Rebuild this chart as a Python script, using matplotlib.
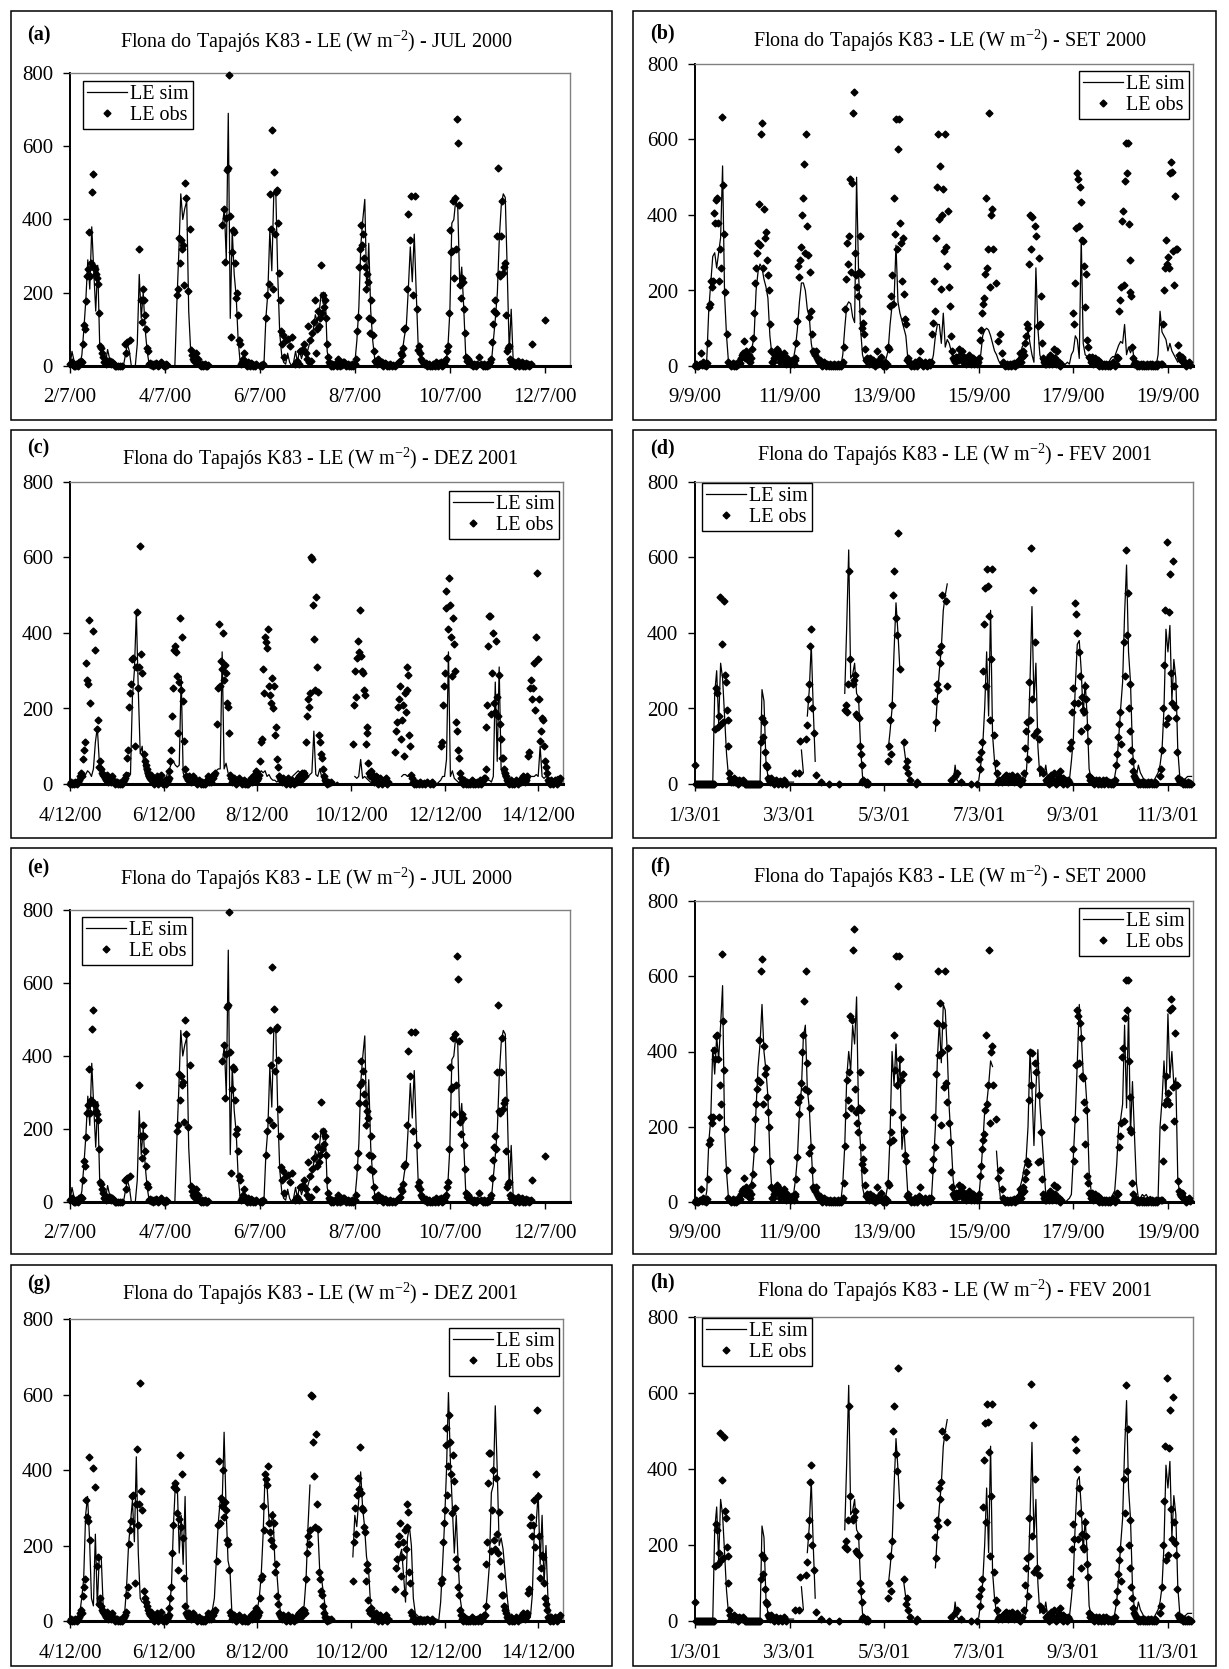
import numpy as np
import matplotlib
matplotlib.use("Agg")
import matplotlib.pyplot as plt
from matplotlib.patches import Rectangle

plt.rcParams['font.family'] = ['Liberation Serif', 'DejaVu Serif']
plt.rcParams['mathtext.fontset'] = 'custom'
plt.rcParams['mathtext.rm'] = 'Liberation Serif'

N = None

# ---------------- JUL 2000 ----------------
ticks_jul = ['2/7/00', '4/7/00', '6/7/00', '8/7/00', '10/7/00', '12/7/00']
# observed LE, half-hourly, one row per day
obs_jul = [
    [5,8,10,3,0,0,5,2,0,10,12,15,10,60,113,100,178,245,265,365,245,280,475,525,270,265,250,240,225,145,55,50,35,25,10,15,5,15,12,8,15,5,10,N,5,0,N,0],
    [N,0,N,0,N,0,N,N,60,35,65,N,N,70,N,N,N,N,N,N,N,N,320,N,180,120,210,180,140,100,50,40,5,8,3,5,0,5,2,8,5,0,3,5,10,5,3,0],
    [0,5,3,N,N,N,N,N,N,N,N,N,195,210,350,280,345,320,330,220,500,460,N,205,N,375,45,30,20,15,25,35,10,20,5,3,0,5,0,3,5,0,0,2,N,N,N,N],
    [N,N,N,N,N,N,N,N,N,N,385,N,430,285,405,535,540,795,410,80,310,370,365,280,185,200,140,70,60,5,10,20,35,10,5,0,10,5,0,8,5,0,3,0,5,N,N,N],
    [0,3,0,5,N,N,130,195,N,225,470,375,645,210,530,360,475,480,390,255,180,95,60,85,25,N,70,N,75,N,55,N,80,N,N,5,N,15,N,5,N,40,N,45,N,60,N,35],
    [20,110,10,70,15,90,N,120,180,35,100,150,110,130,275,145,195,160,180,130,60,25,10,5,0,5,0,3,5,N,0,20,5,0,5,2,10,10,5,0,3,5,0,2,0,5,0,3],
    [5,20,95,135,270,320,385,330,360,295,270,210,250,230,130,90,180,125,85,40,15,10,5,20,15,10,5,10,0,5,8,5,0,3,0,5,N,0,N,3,N,0,N,5,8,10,15,35],
    [30,50,100,105,N,210,415,N,345,465,N,195,N,465,N,155,45,55,35,20,15,10,5,5,8,0,3,5,0,N,0,5,3,0,10,5,0,8,5,10,0,3,5,15,20,40,55,145],
    [370,310,315,450,240,460,320,675,610,440,220,185,240,230,155,90,25,15,20,10,5,8,3,0,5,2,0,5,N,25,N,5,N,0,3,5,0,2,0,5,3,10,20,65,115,150,180,145],
    [355,540,250,245,355,450,255,270,280,140,40,50,55,20,10,15,5,10,0,8,5,15,0,5,3,10,0,5,0,8,2,5,0,3,5,60,N,N,N,N,N,N,N,N,N,N,N,N],
    [125],
]
# simulated LE, hourly, one row per day
sim_jul = [
    [0,40,15,0,0,5,30,100,180,290,210,380,260,150,275,60,25,10,10,45,20,5,0,0],
    [0,0,0,0,30,60,40,0,0,0,60,250,130,200,100,40,5,0,0,5,0,0,0,0],
    [0,0,0,0,0,0,170,310,470,400,430,450,150,40,20,30,15,5,0,0,0,0,0,0],
    [0,0,0,0,N,380,430,290,690,130,370,250,190,70,10,0,5,0,0,5,0,0,0,0],
    [0,0,0,130,200,370,260,470,480,250,90,30,10,5,35,10,0,10,40,10,45,20,40,50],
    [40,60,70,100,140,120,150,200,170,200,40,10,5,10,5,0,0,5,0,0,5,0,0,10],
    [10,70,160,330,400,455,200,335,150,70,20,10,5,0,5,0,0,0,5,0,0,0,0,15],
    [40,80,110,210,325,230,360,200,55,30,15,5,0,0,5,0,0,0,0,5,0,0,10,50],
    [150,390,400,455,430,220,270,160,30,15,5,0,0,5,0,0,0,0,0,0,0,10,70,130],
    [200,350,440,470,460,260,40,155,15,5,0,5,0,0,5,0,0,5,0],
]

# ---------------- SET 2000 ----------------
ticks_set = ['9/9/00', '11/9/00', '13/9/00', '15/9/00', '17/9/00', '19/9/00']
obs_set = [
    [0,5,0,0,3,5,35,2,10,3,5,0,8,60,155,165,225,210,225,405,380,440,445,380,225,310,260,660,480,350,195,N,85,N,10,N,5,0,3,8,0,5,0,3,10,5,8,20],
    [30,35,65,20,40,25,15,30,10,20,45,75,140,220,260,300,325,430,320,615,645,260,415,340,355,280,240,200,110,40,10,10,20,30,25,45,40,30,10,15,25,20,35,10,5,20,15,10],
    [10,5,15,10,5,20,15,60,120,265,235,280,315,400,445,535,300,615,370,295,130,250,145,85,40,35,30,40,20,15,10,15,5,0,3,10,5,0,5,3,0,5,0,2,0,5,0,3],
    [0,5,0,3,0,5,10,50,150,230,325,270,345,495,250,485,670,725,300,240,210,185,250,345,245,100,145,115,85,45,15,20,10,5,20,10,5,15,5,0,10,40,5,15,10,25,5,0],
    [5,10,0,5,50,45,160,185,240,165,445,350,655,310,575,655,380,325,225,340,190,125,110,15,20,10,5,0,5,3,0,10,5,0,5,15,40,10,5,0,5,10,3,0,5,10,5,2],
    [10,85,115,225,145,340,475,615,390,530,205,400,470,305,615,315,265,410,210,160,80,40,20,15,10,25,15,20,45,30,20,40,10,25,15,5,20,10,30,15,5,10,20,5,15,10,5,10],
    [20,70,95,140,165,180,245,445,260,310,670,210,400,415,310,N,N,N,220,N,65,N,85,N,35,10,5,0,3,5,0,2,5,0,5,3,8,0,5,10,5,15,35,10,25,40,30,60],
    [80,110,100,270,400,310,395,N,N,370,345,N,105,285,110,185,60,20,10,5,5,10,20,5,30,10,5,20,45,20,5,40,5,10,0,5,N,N,N,N,N,N,N,N,N,N,N,N],
    [140,110,220,365,510,495,370,475,435,335,330,265,155,245,70,50,25,20,10,25,5,15,20,10,5,15,0,10,5,0,3,5,0,5,2,0,5,0,3,5,10,5,0,5,25,20,145,175],
    [210,385,410,215,490,590,510,590,375,280,195,185,50,20,5,10,5,0,5,0,3,5,0,5,0,3,0,5,0,2,5,0,5,0,3,0,5,0,5,N,N,5,5,110,200,260,335,270],
    [290,260,510,540,515,305,215,450,310,310,55,30,20,15,25,10,10,5,0,5,5,10,3],
]
sim_set_b = [
    [0,0,0,0,0,0,20,150,220,290,300,260,300,340,530,190,80,10,0,5,10,5,5,10],
    [20,30,20,30,40,50,80,200,250,270,260,230,210,180,80,30,15,20,30,20,15,10,20,10],
    [10,10,20,50,100,170,220,220,200,150,130,60,30,30,20,10,5,5,0,5,0,0,5,10],
    [0,5,0,30,100,160,170,165,130,115,500,250,100,30,10,5,0,5,10,5,0,5,10,5],
    [5,20,40,110,160,170,320,170,140,120,100,80,20,10,5,0,5,10,5,0,5,15,10,5],
    [5,30,80,110,110,60,140,50,70,60,40,20,15,10,5,15,20,10,15,20,10,25,15,10],
    [5,30,80,95,100,95,80,60,40,30,15,5,0,5,0,0,5,10,5,10,20,30,50,60],
    [70,95,60,30,10,260,100,30,10,5,15,25,10,5,20,30,15,10,5,0,5,10,5,30],
    [40,80,70,20,340,60,30,25,10,5,10,5,15,5,0,5,0,5,10,20,25,25,40,55],
    [65,60,110,30,50,35,50,10,5,0,5,5,0,5,0,5,0,5,0,30,145,90,80,70],
    [40,60,40,30,20,10,20,5,10,20,5,10],
]
sim_set_f = [
    [0,0,0,0,0,0,30,160,220,410,340,440,380,470,575,190,80,10,0,5,5,10,10,20],
    [20,30,40,30,40,60,130,250,360,420,525,400,350,280,120,30,10,20,30,25,15,10,20,10],
    [10,10,20,60,120,240,300,440,470,300,250,140,40,30,20,10,5,5,0,5,0,0,5,10],
    [0,5,0,50,150,330,400,350,470,420,545,230,150,40,15,5,0,5,10,5,0,5,10,5],
    [0,20,50,180,400,310,420,300,380,140,200,110,20,10,5,0,5,10,5,0,5,15,10,5],
    [10,100,200,380,480,370,525,510,400,250,160,60,20,10,5,15,20,10,15,20,10,25,15,10],
    [10,70,150,240,260,310,375,360,N,135,60,10,5,10,5,10,5,10,5,10,20,40,60,90],
    [110,200,400,300,150,300,405,260,180,100,20,10,5,15,10,5,0,5,10,5,0,5,10,20],
    [120,230,370,525,450,340,330,250,80,30,20,10,5,10,5,0,5,0,5,10,20,30,100,200],
    [220,260,470,250,510,180,320,180,50,10,10,20,15,20,10,15,10,5,5,10,200,270,375,280],
    [500,330,400,310,330,60,20,10,30,10,5,10],
]

# ---------------- DEZ 2001 ----------------
ticks_dez = ['4/12/00', '6/12/00', '8/12/00', '10/12/00', '12/12/00', '14/12/00']
obs_dez = [
    [0,5,0,3,0,5,2,0,5,10,20,30,20,65,90,110,320,275,265,435,215,N,N,N,405,N,355,N,145,170,45,60,40,30,25,20,15,10,25,5,15,10,5,20,10,5,0,5],
    [5,0,3,0,5,0,5,10,15,25,70,90,N,205,240,265,330,335,N,100,310,455,255,310,630,345,295,N,80,60,50,40,30,20,15,25,10,5,0,10,5,20,0,5,10,25,5,0],
    [5,10,0,5,10,15,35,60,90,180,255,355,365,350,285,135,270,440,250,390,220,115,40,20,15,10,20,15,5,10,20,15,10,5,0,5,10,5,0,5,0,3,0,5,10,20,5,15],
    [10,5,20,15,25,30,N,160,255,425,260,325,305,400,275,315,295,215,205,135,25,15,5,10,15,5,0,10,5,15,10,5,0,5,10,0,5,0,3,0,5,10,15,5,10,25,20,35],
    [10,15,25,60,110,120,305,240,390,375,360,410,260,235,215,280,200,260,130,150,65,45,20,15,10,5,15,10,5,0,10,5,15,5,0,5,10,5,0,5,10,5,15,20,25,10,30,20],
    [30,20,110,180,225,205,240,600,595,475,385,250,495,310,245,130,110,80,70,40,20,10,5,0,5,N,3,N,5,N,N,N,N,N,N,N,N,N,N,N,N,N,N,N,N,N,N,N],
    [N,N,105,210,300,230,335,380,350,460,340,300,295,250,235,105,150,135,55,30,20,35,25,15,5,10,20,5,0,10,15,5,0,5,10,5,15,0,5,N,N,N,N,N,N,85,140,165],
    [205,225,260,120,170,210,75,240,190,250,310,290,130,100,25,15,5,0,5,0,3,N,0,5,N,0,N,3,0,N,5,N,N,0,N,5,0,N,N,N,N,N,N,N,100,110,210,260],
    [295,465,510,335,410,545,475,390,285,440,370,300,165,140,90,70,30,15,5,0,10,5,0,5,0,3,0,5,10,0,5,0,3,5,0,5,10,0,5,10,15,15,40,150,210,365,445,445],
    [185,295,400,215,190,380,230,180,290,160,120,70,70,40,30,20,10,5,0,5,10,0,5,0,3,10,5,0,5,10,5,15,20,10,5,15,10,20,75,85,255,275,225,255,320,195,390,560],
    [330,225,115,140,175,170,100,60,45,30,10,5,0,10,5,0,5,10,5,0,5,10,15],
]
sim_dez_c = [
    [0,0,0,0,0,20,30,20,25,35,30,20,40,110,150,60,40,30,20,15,10,10,5,5],
    [5,0,0,5,20,30,30,25,230,300,455,250,80,100,40,20,10,5,5,0,5,10,5,5],
    [5,10,30,40,55,60,50,45,50,285,30,15,20,15,10,5,0,5,10,5,0,5,10,15],
    [20,25,30,35,40,40,350,40,55,30,20,15,10,5,5,10,5,0,0,5,5,10,5,10],
    [15,25,35,30,35,20,25,15,10,10,5,10,5,5,0,5,10,15,20,25,30,35,30,35],
    [30,35,20,25,30,140,25,20,40,20,5,5,0,5,0,0,0,5,0,0,N,N,N,N],
    [N,N,20,15,20,65,15,20,15,10,5,5,30,20,25,15,10,5,0,N,N,N,N,N],
    [N,N,20,25,25,20,25,15,5,0,0,0,5,0,0,5,0,0,5,0,0,5,10,20],
    [20,65,350,20,35,15,10,5,0,5,0,0,5,0,0,5,0,0,5,0,0,5,10,10],
    [5,20,270,60,310,40,20,10,5,5,5,10,5,5,0,5,10,10,5,15,20,20,20,25],
    [20,100,20,15,20,15,10,5,10,15,20,20],
]
sim_dez_g = [
    [5,5,5,5,10,20,60,110,280,330,220,60,40,230,40,170,170,40,30,20,10,5,5,5],
    [0,5,5,10,20,90,200,260,320,210,435,180,60,50,50,30,20,10,5,5,0,5,10,5],
    [5,10,15,40,90,250,360,360,180,280,150,330,40,20,15,20,10,5,0,5,0,5,10,20],
    [25,30,60,160,260,320,310,500,300,160,135,20,10,5,5,10,5,0,5,10,5,10,15,20],
    [30,60,120,230,390,360,270,250,290,160,130,60,20,15,10,5,5,10,5,10,20,25,30,35],
    [40,110,250,360,N,N,245,250,135,110,70,30,10,5,0,5,0,N,N,N,N,N,N,N],
    [N,170,280,250,320,395,300,250,170,140,50,30,20,15,10,5,10,5,0,5,0,5,N,140],
    [140,170,190,120,50,220,250,200,60,20,15,10,10,10,10,10,10,5,5,5,5,0,50,150],
    [260,400,605,420,300,180,280,150,60,25,20,15,10,10,5,5,5,0,5,0,5,20,80,150],
    [340,360,570,400,200,220,190,130,70,20,10,5,10,5,10,0,5,5,10,5,10,70,240,260],
    [340,150,280,100,200,60,20,10,5,10,15,20],
]

# ---------------- FEV 2001 ----------------
ticks_fev = ['1/3/01', '3/3/01', '5/3/01', '7/3/01', '9/3/01', '11/3/01']
obs_fev = [
    [50,0,0,0,0,0,0,0,0,0,0,0,0,0,0,0,0,0,0,0,145,255,240,150,180,495,160,370,165,485,290,270,195,170,100,30,15,5,10,5,15,5,10,5,0,10,5,8],
    [5,10,5,0,0,0,0,0,0,0,0,0,0,0,0,0,0,0,0,110,175,125,165,85,50,45,15,10,5,15,10,5,0,5,10,5,0,5,8,5,0,5,10,5,0,N,N,N],
    [N,N,N,N,N,N,30,N,N,N,30,115,N,N,N,N,N,120,155,225,265,365,410,200,N,135,N,25,N,N,N,N,5,N,N,N,N,N,N,N,0,N,N,N,N,N,N,N],
    [N,N,0,N,N,N,N,N,195,210,190,265,565,330,N,N,265,275,290,185,180,225,175,100,80,50,5,10,N,5,0,5,0,N,N,N,N,N,N,N,N,N,N,N,N,N,N,N],
    [N,N,N,N,60,100,170,80,210,500,565,N,440,395,665,N,305,N,N,N,110,N,45,60,30,N,10,N,N,N,N,N,0,5,N,N,N,N,N,N,N,N,N,N,N,N,N,N],
    [N,N,N,N,220,165,265,250,350,320,365,500,N,N,N,485,260,N,N,N,10,N,N,N,20,N,30,N,N,N,5,N,N,N,N,N,N,N,N,N,0,N,N,N,N,N,0,N],
    [65,40,85,110,300,425,520,260,570,525,445,170,330,570,N,130,N,N,55,30,5,10,N,N,5,15,10,20,25,15,5,20,10,15,25,10,5,15,10,20,5,10,0,5,10,N,30,95],
    [140,165,65,270,170,625,225,515,130,375,N,140,N,120,40,N,N,30,N,N,10,5,15,0,10,25,5,10,30,5,0,10,5,20,35,10,5,15,0,5,10,5,0,10,5,95,110,190],
    [255,215,480,450,400,215,350,285,140,230,195,190,260,225,150,115,20,10,15,5,10,0,5,10,5,0,10,5,0,5,10,0,5,10,5,0,5,3,0,5,0,5,10,50,80,125,160,190],
    [105,N,N,375,285,620,395,505,200,265,140,90,60,35,20,15,10,5,0,5,0,3,5,0,5,0,3,0,5,0,2,5,0,3,0,5,0,N,N,N,20,40,90,200,315,460,160,640],
    [175,455,555,295,215,590,260,205,175,85,15,10,5,10,5,0,5,0,3,0,5,0,2,0],
]
sim_fev = [
    [0,0,0,0,0,0,0,0,0,0,240,300,160,320,280,180,80,20,5,0,5,10,5,5],
    [5,0,0,0,0,0,0,0,0,0,250,220,60,20,10,5,5,5,5,5,0,0,N,N],
    [5,5,5,N,N,N,90,30,N,180,250,370,200,60,N,N,10,0,N,N,N,N,N,N],
    [N,N,N,N,240,420,620,280,290,320,240,230,100,20,5,5,N,N,N,N,N,N,N,N],
    [N,N,90,140,200,350,480,400,300,N,100,60,30,10,5,N,N,N,N,N,N,N,N,N],
    [N,N,140,230,300,360,460,500,530,N,N,0,50,10,5,N,N,N,N,N,N,N,N,N],
    [10,50,100,200,350,180,460,130,60,20,10,15,20,25,20,15,20,10,15,10,5,10,5,10],
    [20,100,270,470,220,320,100,20,30,20,50,10,10,5,15,20,10,5,10,20,10,5,10,60],
    [120,260,370,380,300,180,270,180,40,15,10,5,10,5,0,5,0,5,10,5,0,20,50,120],
    [200,270,450,580,350,270,90,30,20,50,30,20,10,5,5,0,5,10,20,30,50,90,200,410],
    [350,420,220,330,280,90,20,15,10,15,20,20,20],
]

station = 'Flona do Tapajós K83 - LE (W m$^{\\mathregular{-2}}$) - '


def series(rows):
    return np.array([np.nan if v is None else float(v) for row in rows for v in row])


W, H = 1229, 1669
fig = plt.figure(figsize=(W / 100, H / 100), dpi=100)
fig.patch.set_facecolor('white')

# label, month, tick labels, obs, sim, legend corner, plot rect (px), panel box (px), title centre, label pos, legend offset
panels = [
    ('(a)', 'JUL 2000', ticks_jul, obs_jul, sim_jul, 'upper left', (70, 73, 570, 366), (10.5, 11.5, 612, 420.5), (316, 42), (27, 35), (13, 8)),
    ('(b)', 'SET 2000', ticks_set, obs_set, sim_set_b, 'upper right', (695, 64, 1193, 366), (633, 11.5, 1216, 420.5), (950, 41), (650, 33), (4, 7)),
    ('(c)', 'DEZ 2001', ticks_dez, obs_dez, sim_dez_c, 'upper right', (70, 482, 563, 784), (10.5, 430, 612, 838), (320, 459), (27, 448), (4, 9)),
    ('(d)', 'FEV 2001', ticks_fev, obs_fev, sim_fev, 'upper left', (695, 482, 1193, 784), (633, 430, 1216, 838), (955, 455), (650, 448), (7, 1)),
    ('(e)', 'JUL 2000', ticks_jul, obs_jul, sim_jul, 'upper left', (70, 910, 570, 1202), (10.5, 848, 612, 1254), (316, 879), (27, 868), (12, 7)),
    ('(f)', 'SET 2000', ticks_set, obs_set, sim_set_f, 'upper right', (695, 901, 1193, 1202), (633, 848, 1216, 1254), (950, 877), (650, 866), (4, 7)),
    ('(g)', 'DEZ 2001', ticks_dez, obs_dez, sim_dez_g, 'upper right', (70, 1319, 563, 1621), (10.5, 1265, 612, 1666), (320, 1294), (27, 1284), (4, 9)),
    ('(h)', 'FEV 2001', ticks_fev, obs_fev, sim_fev, 'upper left', (695, 1317, 1193, 1621), (633, 1265, 1216, 1666), (955, 1291), (650, 1282), (7, 1)),
]

for (lab, month, tlabels, obs_rows, sim_rows, loc, prect, brect, tpos, lpos, loff) in panels:
    # outer chart frame
    bx0, by0, bx1, by1 = brect
    fig.add_artist(Rectangle((bx0 / W, 1 - by1 / H), (bx1 - bx0) / W, (by1 - by0) / H,
                             transform=fig.transFigure, fill=False, ec='black', lw=1.1))
    x0, y0, x1, y1 = prect
    ax = fig.add_axes([x0 / W, 1 - y1 / H, (x1 - x0) / W, (y1 - y0) / H])

    sim = series(sim_rows)
    obs = series(obs_rows)
    t_sim = np.arange(len(sim)) / 24.0
    t_obs = np.arange(len(obs)) / 48.0

    ax.plot(t_sim, sim, color='black', lw=0.9, label='LE sim', zorder=2)
    ax.plot(t_obs, obs, linestyle='none', marker='D', ms=3.5, color='black',
            label='LE obs', clip_on=False, zorder=3)

    ax.set_xlim(0, 10.53)
    ax.set_ylim(0, 800)
    ax.set_xticks(np.arange(0, 11, 2))
    ax.set_xticklabels(tlabels)
    ax.set_yticks(np.arange(0, 801, 200))

    for s in ('top', 'right'):
        ax.spines[s].set_color('#808080')
        ax.spines[s].set_linewidth(1.0)
    ax.spines['left'].set_linewidth(1.4)
    ax.spines['bottom'].set_linewidth(2.2)
    ax.tick_params(axis='both', direction='out', length=4.7, width=1.0, labelsize=15,
                   top=False, right=False)
    ax.tick_params(axis='x', pad=11.5)
    ax.tick_params(axis='y', pad=7.5)

    w = x1 - x0
    h = y1 - y0
    if loc == 'upper left':
        anchor = (loff[0] / w, 1 - loff[1] / h)
    else:
        anchor = (1 - loff[0] / w, 1 - loff[1] / h)
    leg = ax.legend(loc=loc, bbox_to_anchor=anchor, borderaxespad=0, frameon=True,
                    fancybox=False, edgecolor='black', framealpha=1, fontsize=14.5,
                    handlelength=2.0, handletextpad=0.15, borderpad=0.2,
                    labelspacing=0.1, numpoints=1)
    leg.get_frame().set_linewidth(1.0)

    fig.text(tpos[0] / W, 1 - tpos[1] / H, station + month, ha='center', va='center',
             fontsize=14.5)
    fig.text(lpos[0] / W, 1 - lpos[1] / H, lab, ha='left', va='center',
             fontsize=14.5, fontweight='bold')

fig.savefig('out.png', dpi=100, facecolor='white')
